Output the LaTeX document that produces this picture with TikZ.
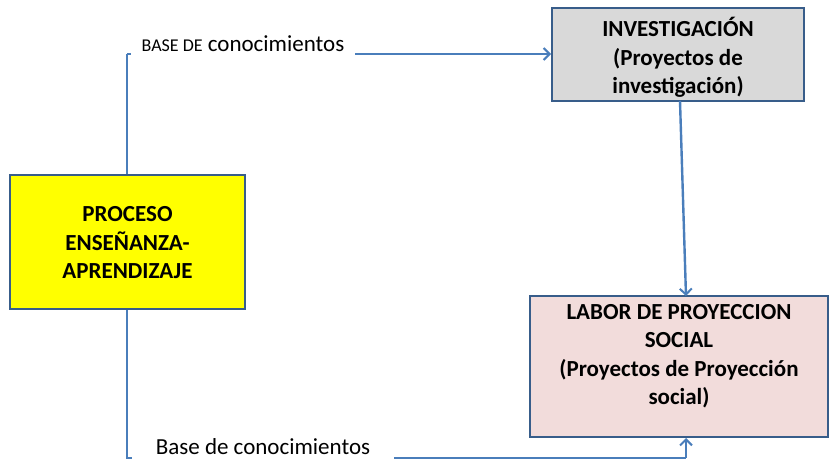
\documentclass[tikz,border=0pt]{standalone}
\usepackage{fontspec}
\setmainfont{Carlito}
\usetikzlibrary{arrows.meta}
\definecolor{lineblue}{RGB}{74,126,187}
\definecolor{boxedge}{RGB}{56,93,138}
\definecolor{boxgray}{RGB}{217,217,217}
\definecolor{boxpink}{RGB}{242,220,219}
\definecolor{boxyellow}{RGB}{255,255,0}
\tikzset{
  box/.style={draw=boxedge, line width=2pt, inner sep=0pt},
  boxtext/.style={align=center, font=\fontsize{23}{28.5}\selectfont\bfseries, inner sep=0pt},
  conn/.style={draw=lineblue, line width=2.4pt},
  arr/.style={conn, -{Straight Barb[length=6pt,width=12pt,line width=2pt]}},
  lbl/.style={fill=white, inner xsep=0pt, inner ysep=0pt, text depth=6pt, anchor=base, font=\fontsize{23}{26}\selectfont}
}
\begin{document}
\begin{tikzpicture}[x=1pt,y=-1pt]
\useasboundingbox (0,0) rectangle (830,460);
% boxes
\node[box, fill=boxyellow, minimum width=235pt, minimum height=134pt] (pea) at (127.5,242) {};
\node[boxtext] (peat) at (127.5,243) {PROCESO\\ENSEÑANZA-\\APRENDIZAJE};
\node[box, fill=boxgray, minimum width=252pt, minimum height=93pt] (inv) at (678,54.5) {};
\node[boxtext] (invt) at (678,57.5) {INVESTIGACIÓN\\(Proyectos de\\investigación)};
\node[box, fill=boxpink, minimum width=298pt, minimum height=141pt] (lab) at (679,366.5) {};
\node[boxtext] (labt) at (679,356) {LABOR DE PROYECCION\\SOCIAL\\(Proyectos de Proyección\\social)};
% coordinates
\coordinate (tl) at (127,54);
\coordinate (bl) at (127,458);
\coordinate (br) at (686,458);
\coordinate (ti) at (680,101);
\coordinate (bi) at (686,296);
% connectors
\draw[conn] (pea.north -| tl) -- (tl);
\draw[arr] (tl) -- (inv.west |- tl);
\draw[conn] (pea.south -| bl) -- (bl) -- (br);
\draw[arr] (br) -- (lab.south -| br);
\draw[arr] (ti) -- (bi);
% labels
\node[lbl, minimum width=224pt] (lt) at (243,52) {{\fontsize{18}{20}\selectfont BASE DE} conocimientos};
\node[lbl, minimum width=262pt] (lb) at (263,454) {Base de conocimientos};
\end{tikzpicture}
\end{document}
